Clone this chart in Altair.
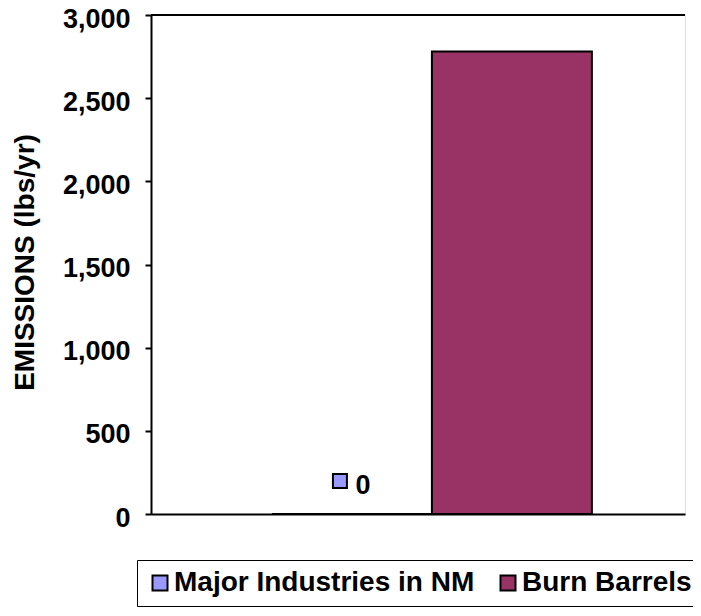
import altair as alt
import pandas as pd

# ---- data ----
categories = ["Major Industries in NM", "Burn Barrels"]
emissions = [0, 2780]
colors = ["#9999FF", "#993366"]
y_ticks = [0, 500, 1000, 1500, 2000, 2500, 3000]
label_text = ["0"]

df = pd.DataFrame({"source": categories, "emissions": emissions})
lab = pd.DataFrame({"source": categories[:1], "emissions": emissions[:1], "label": label_text})
top = pd.DataFrame({"emissions": [max(y_ticks)]})

FONT = "Liberation Sans"
W, H = 534, 499

xscale = alt.Scale(domain=categories, paddingInner=0, paddingOuter=0.669, align=0.565)
yscale = alt.Scale(domain=[0, 3000], nice=False)

x_enc = alt.X(
    "source:N", sort=categories, scale=xscale,
    axis=alt.Axis(title=None, labels=False, ticks=False, domain=True,
                  domainColor="black", domainWidth=2),
)
y_enc = alt.Y(
    "emissions:Q", scale=yscale,
    axis=alt.Axis(
        title="EMISSIONS (lbs/yr)", values=y_ticks, format=",d", grid=False,
        domainColor="black", domainWidth=2, tickColor="black", tickWidth=2,
        tickSize=6, labelPadding=15, labelOffset=4, labelFontSize=27,
        labelFontWeight="bold", labelFont=FONT, labelColor="black",
        titleFontSize=28, titleFont=FONT, titleFontWeight="bold",
        titleColor="black", titleX=-126, titleY=247,
        titleBaseline="middle", titleAlign="center",
    ),
)

bars = alt.Chart(df).mark_bar(stroke="black", strokeWidth=2).encode(
    x=x_enc,
    y=y_enc,
    color=alt.Color(
        "source:N", scale=alt.Scale(domain=categories, range=colors),
        legend=alt.Legend(
            title=None, orient="none", legendX=-14, legendY=545,
            direction="horizontal", symbolType="square", symbolSize=225,
            symbolStrokeColor="black", symbolStrokeWidth=2, symbolOpacity=1,
            labelFontSize=28, labelFont=FONT, labelFontWeight="bold",
            labelColor="black", labelOffset=0, labelLimit=500,
            columnPadding=19, padding=9, strokeColor="black",
        ),
    ),
)

top_line = alt.Chart(top).mark_rule(color="black", strokeWidth=2).encode(
    y="emissions:Q"
)

label = alt.Chart(lab).mark_text(
    dx=11, dy=-28, fontSize=27, font=FONT, fontWeight="bold", color="black",
    align="center", baseline="middle",
).encode(
    x=alt.X("source:N", sort=categories),
    y="emissions:Q",
    text="label:N",
)

key = alt.Chart(lab).mark_point(
    shape="square", filled=True, fill=colors[0], stroke="black", strokeWidth=2,
    opacity=1, size=196, xOffset=-12, yOffset=-33,
).encode(
    x=alt.X("source:N", sort=categories),
    y="emissions:Q",
)

chart = (
    alt.layer(bars, top_line, label, key)
    .properties(
        width=W, height=H,
        autosize=alt.AutoSizeParams(type="none"),
        padding={"left": 143, "top": 7, "right": 8, "bottom": 94},
    )
    .configure_view(stroke="transparent", strokeWidth=0)
    .configure(background="white")
)

chart.save("out.html", embed_options={"renderer": "svg", "actions": False})
